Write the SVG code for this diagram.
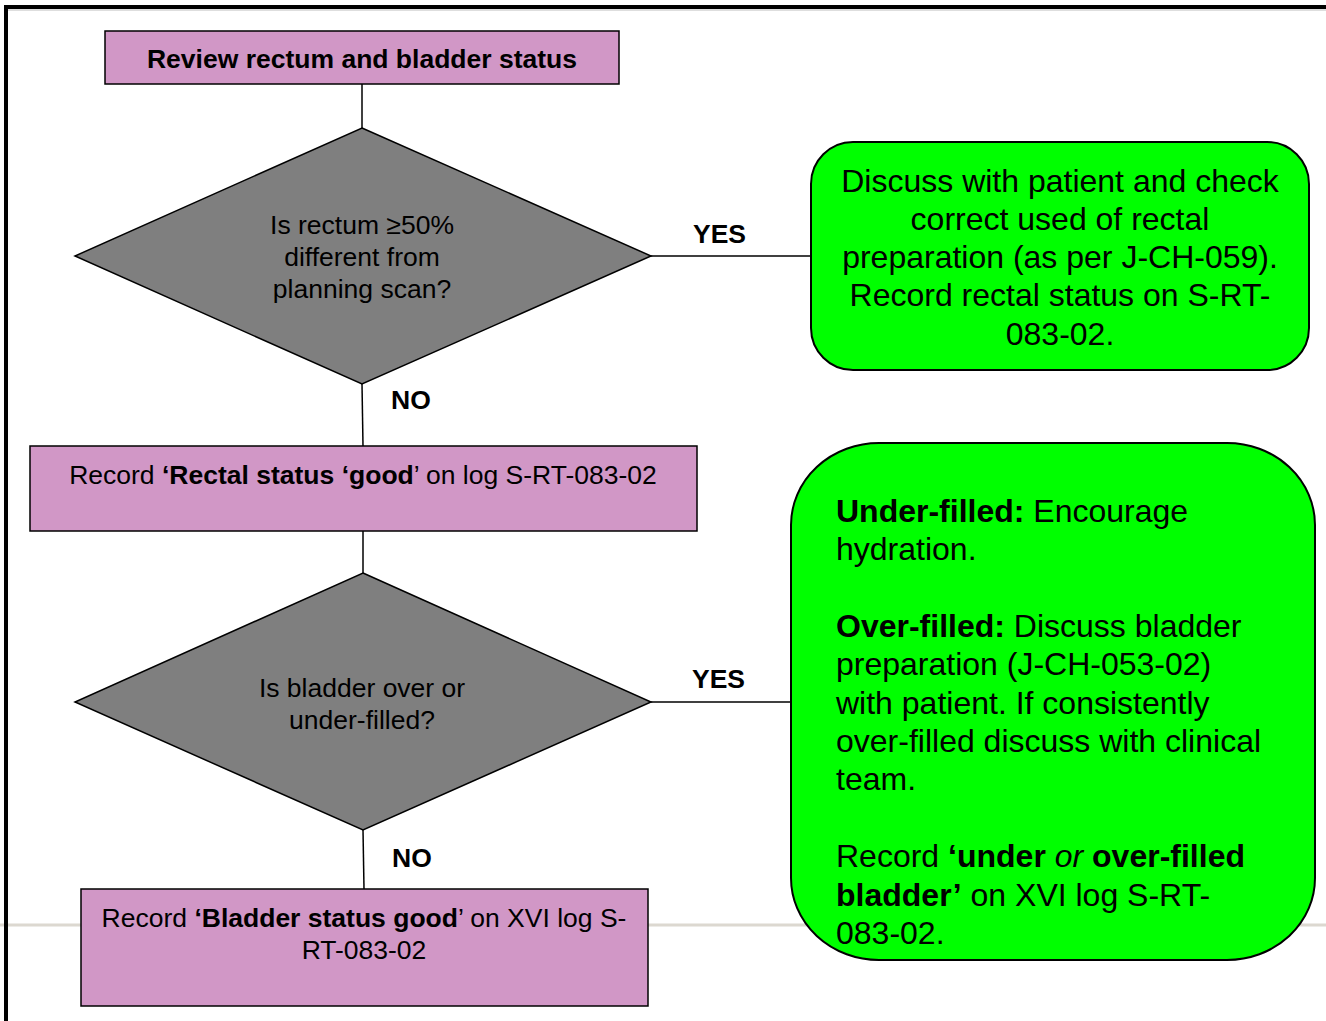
<svg xmlns="http://www.w3.org/2000/svg" width="1326" height="1021" viewBox="0 0 1326 1021">
  <style>
    text { font-family: "Liberation Sans", Arial, sans-serif; fill: #000; }
    .t { font-size: 26.5px; }
    .big { font-size: 32px; }
    .c { text-anchor: middle; }
    .b { font-weight: bold; }
    .proc { fill: #d197c6; stroke: #000; stroke-width: 1.5; }
    .dec { fill: #7f7f7f; stroke: #000; stroke-width: 1.5; }
    .note { fill: #00ff00; stroke: #000; stroke-width: 2; }
    .conn { stroke: #000; stroke-width: 1.5; fill: none; }
  </style>

  <rect width="1326" height="1021" fill="#fff"/>

  <!-- page footer rule -->
  <rect x="0" y="923.5" width="1326" height="3" fill="#dcd8d0"/>

  <!-- page frame -->
  <path d="M6 1021 V7 H1326" fill="none" stroke="#000" stroke-width="4"/>
  <line x1="8" y1="10" x2="1326" y2="10" stroke="#bdbdbd" stroke-width="1"/>

  <!-- connectors -->
  <g id="connectors">
    <line class="conn" x1="362" y1="84" x2="362" y2="128"/>
    <line class="conn" x1="651" y1="256" x2="811" y2="256"/>
    <line class="conn" x1="362" y1="384" x2="363" y2="446"/>
    <line class="conn" x1="363" y1="531" x2="363" y2="573"/>
    <line class="conn" x1="651" y1="702" x2="791" y2="702"/>
    <line class="conn" x1="363" y1="830" x2="364" y2="889"/>
    <text class="t b" x="693" y="243">YES</text>
    <text class="t b" x="391" y="409">NO</text>
    <text class="t b" x="692" y="688">YES</text>
    <text class="t b" x="392" y="867">NO</text>
  </g>

  <g id="review">
    <rect class="proc" x="105" y="31" width="514" height="53"/>
    <text class="t b c" x="362" y="68">Review rectum and bladder status</text>
  </g>

  <g id="rectum-check">
    <polygon class="dec" points="362,128 651,256 362,384 75,256"/>
    <text class="t c" x="362" y="234">Is rectum ≥50%</text>
    <text class="t c" x="362" y="266">different from</text>
    <text class="t c" x="362" y="298">planning scan?</text>
  </g>

  <g id="rectal-action">
    <rect class="note" x="811" y="142" width="498" height="228" rx="42" ry="42"/>
    <text class="big c" x="1060" y="192">Discuss with patient and check</text>
    <text class="big c" x="1060" y="230">correct used of rectal</text>
    <text class="big c" x="1060" y="268">preparation (as per J-CH-059).</text>
    <text class="big c" x="1060" y="306">Record rectal status on S-RT-</text>
    <text class="big c" x="1060" y="345">083-02.</text>
  </g>

  <g id="rectal-good">
    <rect class="proc" x="30" y="446" width="667" height="85"/>
    <text class="t c" x="363" y="484">Record <tspan class="b">‘Rectal status ‘good</tspan>’ on log S-RT-083-02</text>
  </g>

  <g id="bladder-check">
    <polygon class="dec" points="363,573 651,702 363,830 75,702"/>
    <text class="t c" x="362" y="697">Is bladder over or</text>
    <text class="t c" x="362" y="729">under-filled?</text>
  </g>

  <g id="bladder-action">
    <rect class="note" x="791" y="443" width="524" height="517" rx="88" ry="82"/>
    <text class="big" x="836" y="522"><tspan class="b">Under-filled:</tspan> Encourage</text>
    <text class="big" x="836" y="560">hydration.</text>
    <text class="big" x="836" y="637"><tspan class="b">Over-filled:</tspan> Discuss bladder</text>
    <text class="big" x="836" y="675">preparation (J-CH-053-02)</text>
    <text class="big" x="836" y="714">with patient. If consistently</text>
    <text class="big" x="836" y="752">over-filled discuss with clinical</text>
    <text class="big" x="836" y="790">team.</text>
    <text class="big" x="836" y="867">Record <tspan class="b">‘under </tspan><tspan font-style="italic">or</tspan> <tspan class="b">over-filled</tspan></text>
    <text class="big" x="836" y="906"><tspan class="b">bladder’</tspan> on XVI log S-RT-</text>
    <text class="big" x="836" y="944">083-02.</text>
  </g>

  <g id="bladder-good">
    <rect class="proc" x="81" y="889" width="567" height="117"/>
    <text class="t c" x="364" y="927">Record <tspan class="b">‘Bladder status good</tspan>’ on XVI log S-</text>
    <text class="t c" x="364" y="959">RT-083-02</text>
  </g>
</svg>
